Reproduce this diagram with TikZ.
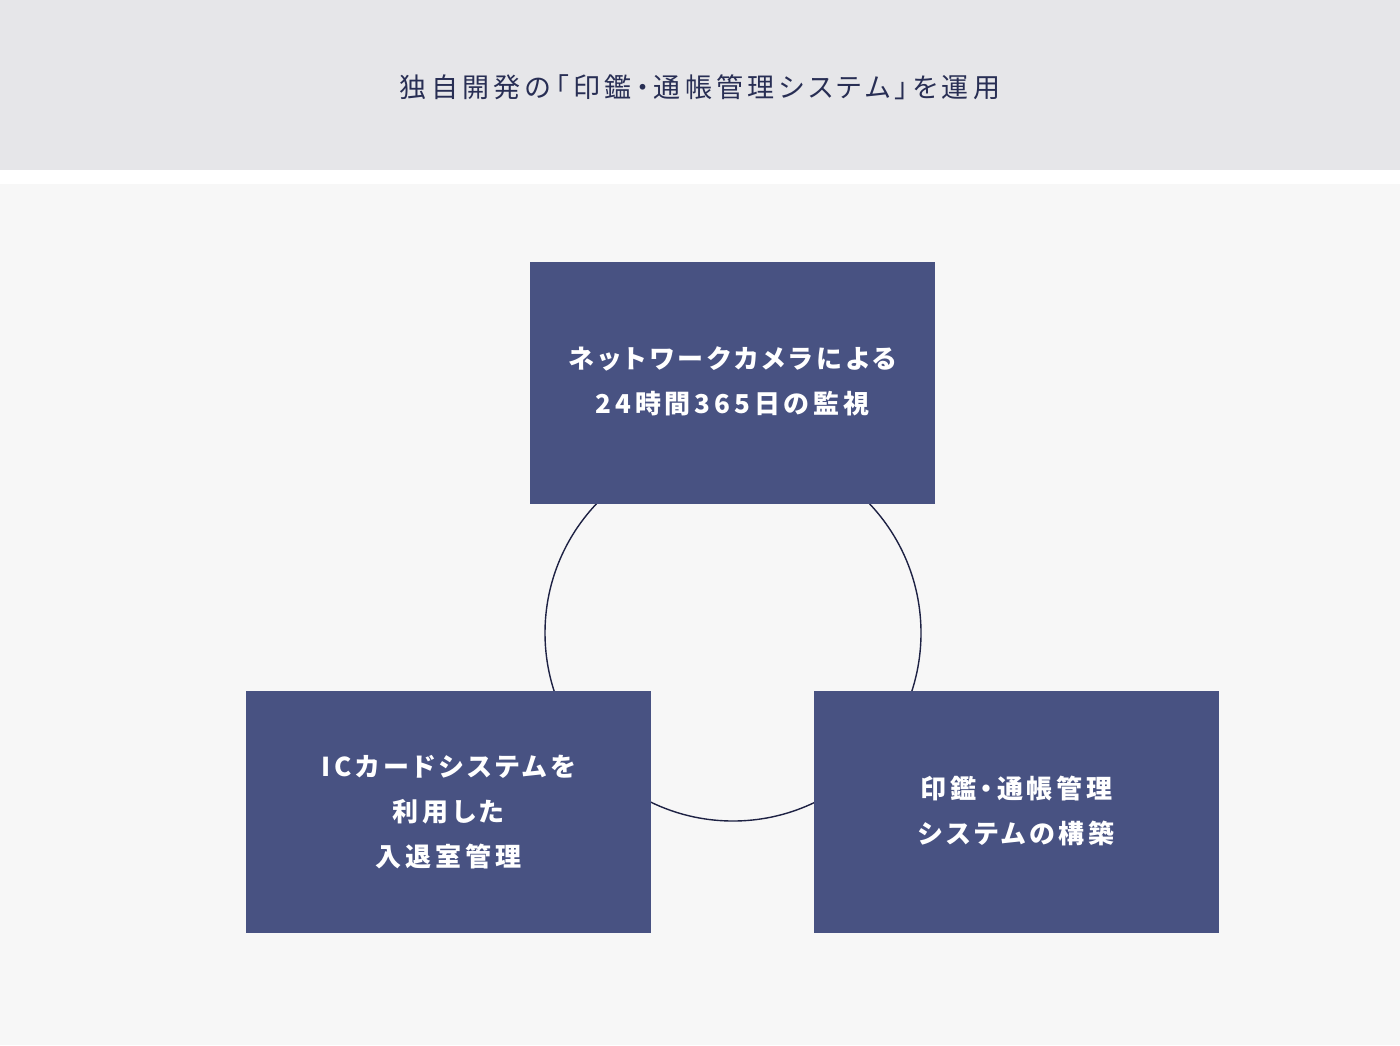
\documentclass[tikz,border=0pt]{standalone}
\usepackage{fontspec}
\usepackage{tikz}
\usetikzlibrary{positioning}
\newfontfamily\titlefont{Noto Sans CJK JP}[LetterSpace=16,RawFeature=+palt]
\newfontfamily\panelfont{Noto Sans CJK JP}[LetterSpace=15,RawFeature=+palt]
\definecolor{bandgray}{RGB}{230, 230, 233}
\definecolor{floorgray}{RGB}{247, 247, 247}
\definecolor{panelblue}{RGB}{72, 82, 130}
\definecolor{inkblue}{RGB}{40, 46, 84}
\definecolor{ringblue}{RGB}{30, 34, 68}
\tikzset{
  panel/.style={fill=panelblue, minimum width=405pt, minimum height=242pt, inner sep=0pt,
                text=white, align=center, font=\panelfont\bfseries\fontsize{26}{45}\selectfont},
  ring/.style={draw=ringblue, line width=1.4pt, circle, minimum size=376pt, inner sep=0pt},
}

\begin{document}
\begin{tikzpicture}[x=1pt, y=-1pt]
            \fill[white]                                                  (0, 0) rectangle (1400, 1045);
            \fill[bandgray]                                               (0, 0) rectangle (1400, 170);
            \fill[floorgray]                                              (0, 184) rectangle (1400, 1045);
            \node[text=inkblue, font=\titlefont\fontsize{27}{30}\selectfont] (title) at (700, 87)
                 {独自開発の「印鑑・通帳管理システム」を運用};
            \node[ring] (cycle) at (733, 633) {};
            \node[panel, text depth=6pt] (camera) at (732.5, 383) {ネットワークカメラによる\\24時間365日の監視};
            \node[panel] (iccard) at (448.5, 812) {ICカードシステムを\\利用した\\入退室管理};
            \node[panel, text depth=5pt] (seal)   at (1016.5, 812) {印鑑・通帳管理\\システムの構築};
\end{tikzpicture}
\end{document}
